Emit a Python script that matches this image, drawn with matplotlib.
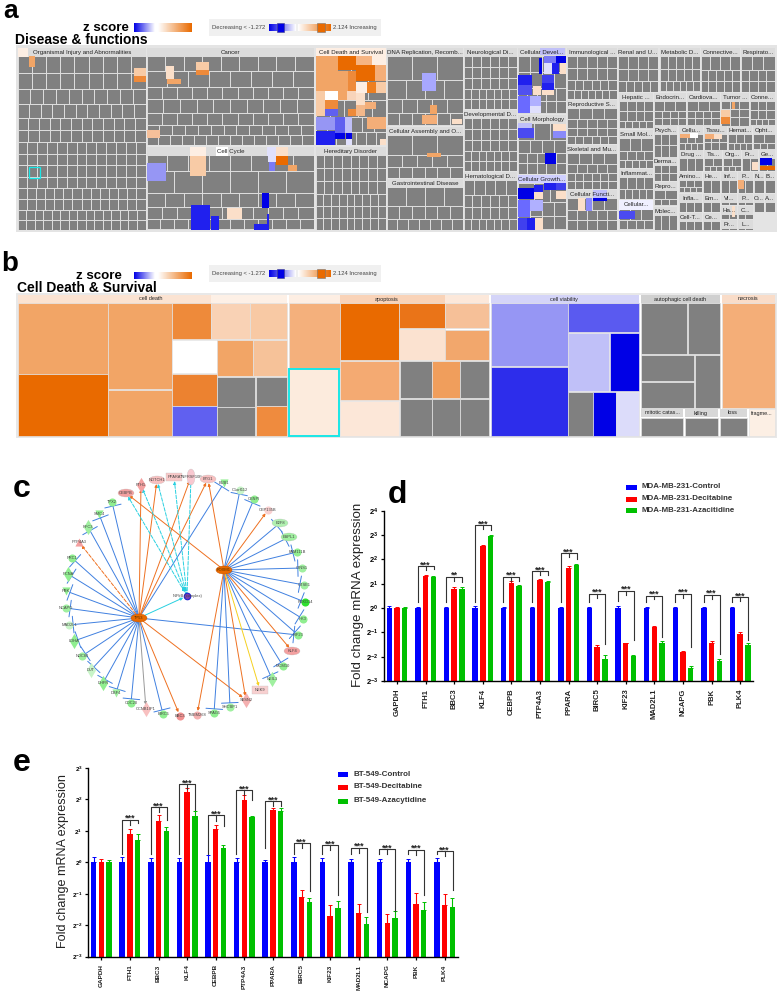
import numpy as np
import matplotlib
matplotlib.use('Agg')
import matplotlib.pyplot as plt
from matplotlib.patches import Rectangle, Ellipse
from matplotlib.colors import LinearSegmentedColormap

plt.rcParams['font.family'] = ['Liberation Sans', 'DejaVu Sans']
plt.rcParams['mathtext.fontset'] = 'custom'
plt.rcParams['mathtext.rm'] = 'Liberation Sans'
plt.rcParams['mathtext.bf'] = 'Liberation Sans:bold'

W, H = 777, 991
GRAY = '#808080'
O1, O2, O3, O4, O5, O6 = '#e96a00', '#ee8a3a', '#f2a566', '#f8cba6', '#fbdfc9', '#fdeee3'
B1, B2, B3, B4, B5, B6 = '#0000e6', '#2020ee', '#5a5af0', '#9696f4', '#c0c0f8', '#e0e0fc'

# ---- panel a: treemap regions (name, x0, x1, y0, y1, cells per row)
regions_a = [
    ('Organismal Injury and Abnormalities', 18, 146, 48, 230, [9, 9, 10, 11, 12, 12, 13, 13, 13, 13, 14, 14, 15, 15]),
    ('Cancer', 147, 314, 48, 145, [9, 8, 11, 10, 11, 13, 14]),
    ('Cell Cycle', 147, 314, 147, 230, [8, 6, 9, 11, 12]),
    ('Cell Death and Survival', 316, 386, 48, 145, [4, 4, 5, 6, 7]),
    ('Hereditary Disorder', 316, 386, 147, 230, [8, 8, 8, 9, 9, 9]),
    ('DNA Replication, Recomb...', 387, 463, 48, 126, [3, 4, 5, 6]),
    ('Cellular Assembly and O...', 387, 463, 127, 178, [3, 5, 6]),
    ('Gastrointestinal Disease', 387, 463, 179, 230, [4, 6, 7]),
    ('Neurological Di...', 464, 517, 48, 109, [6, 6, 6, 7, 7]),
    ('Developmental D...', 464, 517, 110, 171, [6, 6, 6, 7, 7]),
    ('Hematological D...', 464, 517, 172, 230, [5, 6, 6, 7]),
    ('Cellular Devel...', 518, 566, 48, 114, [4, 4, 5, 5]),
    ('Cell Morphology', 518, 566, 115, 174, [3, 4, 5, 5]),
    ('Cellular Growth...', 518, 566, 175, 230, [3, 4, 4]),
    ('Immunological ...', 567, 617, 48, 99, [5, 5, 6, 7]),
    ('Reproductive S...', 567, 617, 100, 144, [4, 5, 5, 6]),
    ('Skeletal and Mu...', 567, 617, 145, 189, [4, 5, 6, 6]),
    ('Cellular Functi...', 567, 617, 190, 230, [4, 5, 5]),
    ('Renal and U...', 618, 658, 48, 92, [4, 4, 5]),
    ('Hepatic ...', 619, 653, 93, 129, [4, 4, 5]),
    ('Small Mol...', 619, 653, 130, 168, [3, 4, 5]),
    ('Inflammat...', 619, 653, 169, 199, [4, 5]),
    ('Cellular...', 619, 653, 200, 230, [3, 4]),
    ('Metabolic D...', 660, 700, 48, 92, [5, 5, 6]),
    ('Connective...', 701, 740, 48, 92, [4, 5, 5]),
    ('Respirato...', 741, 775, 48, 92, [3, 4, 4]),
    ('Endocrin...', 654, 686, 93, 126, [3, 4, 4]),
    ('Cardiova...', 687, 720, 93, 126, [3, 4, 4]),
    ('Tumor ...', 721, 749, 93, 126, [3, 3, 3]),
    ('Conne...', 750, 775, 93, 126, [3, 3, 4]),
    ('Psych...', 654, 677, 126, 157, [3, 3]),
    ('Derma...', 654, 677, 157, 181, [3, 3]),
    ('Repro...', 654, 677, 182, 206, [2, 3]),
    ('Molec...', 654, 677, 207, 230, [3]),
    ('Cellu...', 679, 703, 126, 150, [3, 4]),
    ('Tissu...', 704, 727, 126, 150, [3, 3]),
    ('Hemat...', 728, 752, 126, 150, [3, 4]),
    ('Opht...', 753, 775, 126, 150, [2, 3]),
    ('Drug ...', 679, 703, 150, 171, [3]),
    ('Tis...', 704, 722, 150, 171, [2, 3]),
    ('Org...', 723, 741, 150, 171, [2, 3]),
    ('Fr...', 742, 758, 150, 171, [2]),
    ('Ge...', 759, 775, 150, 171, [2]),
    ('Amino...', 679, 702, 172, 193, [3, 4]),
    ('He...', 703, 720, 172, 193, [2]),
    ('Inf...', 721, 737, 172, 193, [2]),
    ('P...', 738, 753, 172, 193, [2]),
    ('N...', 754, 764, 172, 193, [1]),
    ('B...', 765, 775, 172, 193, [1]),
    ('Infla...', 679, 702, 194, 212, [3]),
    ('Em...', 703, 720, 194, 212, [2]),
    ('Vi...', 721, 737, 194, 205, [2]),
    ('P...', 738, 753, 194, 205, [2]),
    ('O...', 754, 764, 194, 212, [1]),
    ('A...', 765, 775, 194, 212, [1]),
    ('Cell-T...', 679, 702, 213, 230, [3]),
    ('Ce...', 703, 720, 213, 230, [2]),
    ('Ha...', 721, 737, 206, 219, [2]),
    ('C...', 738, 753, 206, 219, [2]),
    ('Pr...', 721, 737, 220, 230, [2]),
    ('L...', 738, 753, 220, 230, [2]),
]

# coloured cells of panel a
cells_a = [
    (18, 48, 28, 57, O6), (29, 56, 35, 67, O3), (134, 68, 146, 76, O4), (134, 76, 146, 82, O2),
    (166, 66, 174, 79, O5), (167, 79, 181, 84, O3), (196, 62, 209, 70, O4), (196, 70, 209, 75, O2),
    (147, 130, 160, 138, '#f6c09a'),
    (190, 147, 206, 156, O6), (216, 147, 228, 156, '#ffffff'), (267, 147, 276, 156, B6), (276, 147, 288, 156, O5),
    (190, 156, 206, 176, O4), (147, 163, 166, 181, B4), (276, 156, 288, 165, O1), (268, 156, 276, 162, B6),
    (269, 162, 275, 171, '#7a7af5'), (288, 165, 297, 171, O3), (227, 208, 242, 219, O5),
    (191, 205, 210, 220, B2), (191, 220, 210, 230, B2), (211, 216, 219, 230, B2), (262, 193, 269, 208, B1),
    (254, 224, 267, 230, B2), (267, 214, 269, 230, B2),
    (316, 48, 372, 56, O6), (372, 48, 386, 65, O6),
    (316, 56, 338, 71, O3), (338, 56, 356, 70, O1), (356, 56, 372, 65, '#f6b482'),
    (316, 71, 338, 91, O3), (338, 71, 348, 91, O3), (348, 71, 356, 91, O2), (356, 65, 375, 81, O1),
    (375, 65, 386, 81, '#f4ae78'), (316, 91, 325, 105, O4), (325, 91, 338, 100, '#ffffff'),
    (338, 91, 347, 100, O3), (347, 91, 356, 100, '#f8d4ba'), (356, 82, 367, 93, O6), (367, 82, 376, 93, '#ee7f20'),
    (376, 82, 386, 93, O4), (325, 100, 338, 109, O2), (316, 105, 325, 116, O4), (325, 109, 338, 116, '#6060f0'),
    (356, 93, 365, 105, O5), (365, 102, 376, 109, '#f4ae78'), (356, 105, 365, 116, '#f4b88a'),
    (348, 109, 356, 116, O2), (367, 117, 386, 129, '#f4ae78'), (316, 117, 335, 130, B4),
    (335, 117, 345, 133, '#6060f0'), (345, 117, 352, 133, B5), (316, 131, 335, 145, B2),
    (335, 133, 345, 139, B1), (346, 133, 352, 139, B1), (346, 139, 352, 145, B6), (380, 139, 386, 145, O5),
    (422, 73, 436, 91, '#a8a8ff'), (430, 105, 437, 114, O3), (422, 115, 437, 124, '#f4ae78'), (452, 119, 462, 124, O5),
    (427, 153, 441, 157, O3),
    (540, 48, 565, 55, B5), (539, 58, 542, 74, B1), (544, 56, 556, 63, '#7a7af5'), (556, 56, 566, 63, B1),
    (544, 63, 552, 74, B6), (552, 63, 559, 74, B2), (560, 63, 566, 74, O5),
    (518, 75, 532, 85, B2), (518, 85, 532, 95, '#5050f0'), (533, 86, 541, 95, O5), (542, 75, 554, 83, '#4040ee'),
    (542, 83, 554, 90, B2), (542, 90, 554, 95, O5), (518, 96, 530, 113, '#6a6aff'), (530, 96, 541, 106, '#b0b0ff'),
    (530, 106, 541, 113, B6),
    (518, 123, 532, 128, B5), (553, 124, 566, 131, O5), (518, 128, 534, 138, '#4a4af0'), (553, 131, 566, 138, '#8a8afa'),
    (545, 153, 556, 164, B1),
    (518, 175, 566, 183, '#d0d0ff'), (518, 188, 534, 199, B1), (534, 185, 543, 192, B2), (534, 192, 543, 199, O5),
    (544, 183, 556, 190, B2), (556, 183, 566, 190, '#4040ee'), (556, 191, 566, 199, O5), (518, 200, 530, 217, '#6a6aff'),
    (530, 200, 543, 211, '#b0b0ff'), (518, 218, 527, 230, '#4040ee'), (527, 218, 535, 230, B2), (535, 218, 543, 230, O5),
    (578, 198, 585, 211, O5), (586, 198, 592, 211, '#8a8afa'), (593, 190, 607, 198, B5), (593, 198, 607, 201, B1),
    (619, 200, 653, 210, '#f0f0ff'), (619, 211, 635, 219, '#4a4af0'),
    (732, 102, 735, 109, O3), (721, 110, 730, 117, O4), (721, 117, 730, 124, O2),
    (680, 134, 690, 138, '#f4ae78'), (690, 133, 698, 138, '#ffffff'), (705, 134, 714, 139, '#f4ae78'), (714, 134, 722, 139, O5),
    (760, 158, 772, 165, B1), (760, 166, 775, 170, O1), (752, 162, 758, 170, O5), (738, 180, 744, 189, '#f4ae78'),
    (732, 206, 735, 217, O5),
]

# ---- panel b: treemap cells
headers_b = [
    ('', 18, 211, 295, 303, '#fbe3d2'), ('', 211, 287.4, 295, 303, '#fdf0e6'),
    ('', 289, 340, 295, 303, '#fdeee3'), ('', 340, 445, 295, 303, '#f9d3b8'), ('', 445, 489, 295, 303, '#fce8da'),
    ('', 490.5, 639, 295, 303, '#d4d4f8'), ('', 640.7, 719.5, 295, 303, '#d0d0d0'), ('', 721.5, 774.5, 295, 303, '#f9dcc8'),
    ('', 640.7, 683, 408.5, 417, '#d8d8d8'), ('', 685, 717.5, 408.5, 417, '#d8d8d8'), ('', 719.5, 747, 408.5, 417, '#d8d8d8'),
]
labels_b = ['cell death', 'apoptosis', 'cell viability', 'autophagic cell death', 'necrosis',
            'mitotic catas...', 'killing', 'loss', 'fragme...']
label_x_b = [151, 387, 564, 680, 748, 662, 701, 733, 762]
label_y_b = [299, 299, 299, 299, 299, 413, 413, 413, 413]
cells_b = [
    (18, 303, 107.5, 373.5, O3), (18, 373.5, 107.5, 435.7, O1), (107.5, 303, 171.5, 389, O3), (107.5, 390, 171.5, 435.7, O3),
    (171.5, 303, 211, 339, '#ee8a3a'), (211, 303, 250, 339, '#f9d2b5'), (250, 303, 287.4, 339, '#f8c9a4'),
    (171.5, 340, 217, 373, '#ffffff'), (217, 340, 252.7, 376, O3), (252.7, 340, 287.4, 376, '#f6c299'),
    (171.5, 374, 217, 405.5, '#ec8230'), (217, 376.5, 255, 406.5, GRAY), (256, 376.5, 287.4, 405.5, GRAY),
    (171.5, 406, 217, 435.7, '#6060f0'), (217, 407, 255, 435.7, GRAY), (256, 406, 287.4, 435.7, '#ef8b3e'),
    (289, 303, 340, 367.5, '#f4b07c'), (340, 303, 399.4, 360, O1), (399.4, 303, 445, 328.3, '#ea7418'),
    (445, 303, 489, 328.3, '#f6c098'), (399.4, 329, 445, 360, '#fbe2d0'), (445, 329.5, 489, 359.5, '#f2a76c'),
    (340, 360.5, 399.4, 400, '#f4aa72'), (340, 400.5, 399.4, 435.7, '#fce7d8'),
    (400, 360.5, 432, 398.3, GRAY), (432, 360.5, 460, 398.3, '#f09e5c'), (460, 360.5, 489, 398.3, GRAY),
    (400, 399, 432, 435.7, GRAY), (432, 399, 460, 435.7, GRAY), (460, 399, 489, 435.7, GRAY),
    (490.5, 303, 568, 366, '#9696f4'), (490.5, 367, 568, 435.7, '#2d2deb'), (568, 303, 639, 332, '#5a5af0'),
    (568, 333, 609, 390.5, '#c0c0f8'), (609.5, 333, 639, 390.5, B1), (568, 391.5, 593, 435.7, GRAY),
    (593, 391.5, 616, 435.7, B1), (616, 391.5, 639, 435.7, '#dcdcfa'),
    (640.7, 303, 687, 353.7, GRAY), (687.5, 303, 719.5, 353.7, GRAY), (640.7, 354.5, 694, 381, GRAY),
    (694.5, 354.5, 719.5, 407.5, GRAY), (640.7, 382, 694, 407.5, GRAY), (721.5, 303, 774.5, 407.5, '#f4ae78'),
    (640.7, 417.5, 683, 435.7, GRAY), (685, 417.5, 717.5, 435.7, GRAY), (719.5, 417.5, 747, 435.7, GRAY),
    (749, 408.5, 774.5, 435.7, '#fcefe4'),
]

# ---- panel c: network nodes (label, x, y, shape, colour)
nodes_c = {
    'CEBPB': (126, 493, 'e', '#f4a0a0'), 'FTH1': (141, 485, 'd', '#f4a0a0'), 'NOTCH1': (157, 480, 'e', '#f8c0c0'),
    'PPARA': (174, 477, 's', '#f8c8c8'), 'TNFRSF10F': (191, 477, 'v', '#f8c8d0'), 'BTG1': (208, 479, 'e', '#f8c0c0'),
    'BUB1': (224, 483, 't', '#90ee90'), 'C1orf112': (240, 490, 'o', '#c8f4c8'), 'CENPI': (254, 499, 'o', '#90ee90'),
    'CEP135B': (268, 510, 'o', '#f8d0d0'), 'E2F8': (280, 523, 'e', '#b0f0b0'), 'ESPL1': (289, 537, 'e', '#a0f0a0'),
    'FAM111B': (297, 552, 'o', '#90ee90'), 'GINS1': (302, 568, 'o', '#a0f0a0'), 'GTSE1': (304, 585, 'o', '#a0f0a0'),
    'FBXO14': (305, 602, 'o', '#30e030'), 'HK3': (303, 619, 'o', '#90ee90'), 'KIF23': (298, 635, 'o', '#90ee90'),
    'KLF4': (292, 651, 'e', '#f4a0a0'), 'MCM10': (283, 666, 'o', '#90ee90'), 'NEIL3': (272, 679, 'd', '#a0f0a0'),
    'NEK9': (260, 690, 's', '#f8d0d0'), 'SESN2': (246, 700, 'd', '#f4b0b0'), 'SHCBP1': (230, 707, 'o', '#a0f0a0'),
    'SPAG5': (214, 713, 'o', '#90ee90'), 'TMEM268': (197, 715, 'o', '#f4b0b0'), 'BBC3': (180, 716, 'o', '#f09090'),
    'BIRC5': (163, 714, 'o', '#90ee90'), 'CCNB1IP1': (146, 709, 'd', '#f8c0c0'), 'CDC20': (131, 703, 'o', '#90ee90'),
    'DBF4': (116, 693, 't', '#a0f0a0'), 'DHFR': (103, 683, 'd', '#90ee90'), 'DUT': (91, 670, 'd', '#c8f4c8'),
    'NDC80': (82, 656, 'o', '#a0f0a0'), 'LDHA': (74, 641, 'd', '#90ee90'), 'MAD2L1': (69, 625, 'o', '#c8f4c8'),
    'NCAPG': (66, 608, 'o', '#a0f0a0'), 'PBK': (66, 591, 't', '#90ee90'), 'PCNA': (68, 574, 'd', '#90ee90'),
    'PRC1': (72, 558, 'o', '#90ee90'), 'PTP4A3': (79, 542, '^', '#f4a0a0'), 'RFC3': (88, 527, 'd', '#a0f0a0'),
    'SMC4': (99, 514, 't', '#90ee90'), 'TPX2': (112, 502, 'o', '#90ee90'),
}
hub_a = (139, 618)
hub_b = (224, 570)
hub_c = (187, 596)
blue_a = ['PRC1', 'PCNA', 'PBK', 'NCAPG', 'MAD2L1', 'LDHA', 'NDC80', 'DUT', 'DHFR', 'DBF4', 'CDC20', 'BIRC5',
          'RFC3', 'SMC4', 'TPX2', 'BUB1', 'KIF23']
orange_a = ['FTH1', 'NOTCH1', 'TNFRSF10F', 'BTG1', 'BBC3', 'SESN2']
blue_b = ['C1orf112', 'CENPI', 'E2F8', 'ESPL1', 'FAM111B', 'GINS1', 'GTSE1', 'FBXO14', 'HK3', 'MCM10', 'NEIL3',
          'SHCBP1', 'SPAG5']
orange_b = ['CEBPB', 'CEP135B', 'KLF4', 'SESN2', 'TMEM268', 'BTG1']
cyan_c = ['CEBPB', 'FTH1', 'NOTCH1', 'PPARA', 'TNFRSF10F']

# ---- panels d and e: log2 fold change
genes_d = ['GAPDH', 'FTH1', 'BBC3', 'KLF4', 'CEBPB', 'PTP4A3', 'PPARA', 'BIRC5', 'KIF23', 'MAD2L1', 'NCAPG', 'PBK', 'PLK4']
ctrl_d = [0, 0, 0, 0, 0, 0, 0, 0, 0, 0, 0, 0, 0]
dec_d = [0, 1.30, 0.77, 2.53, 1.04, 1.14, 1.64, -1.62, -1.45, -0.77, -1.82, -1.44, -1.05]
aza_d = [0, 1.27, 0.77, 2.95, 0.89, 1.07, 1.77, -2.08, -1.99, -1.42, -2.48, -2.19, -1.53]
ctrl_err_d = [0.07, 0.06, 0.06, 0.07, 0.05, 0.04, 0.06, 0.06, 0.08, 0.03, 0.05, 0.04, 0.05]
dec_err_d = [0.05, 0.07, 0.10, 0.06, 0.06, 0.07, 0.08, 0.11, 0.03, 0.03, 0.06, 0.07, 0.08]
aza_err_d = [0.03, 0.05, 0.08, 0.07, 0.05, 0.05, 0.03, 0.16, 0.07, 0.05, 0.11, 0.08, 0.09]
brk_top_d = [1.71, 1.29, 3.40, 1.29, 1.52, 2.25, 0.59, 0.71, 0.51, 0.59, 0.55, 0.45]
brk_right_d = [1.60, 1.07, 3.20, 1.13, 1.34, 2.03, -1.47, -1.33, -1.19, -1.60, -1.88, -1.33]
brk_left_d = [0.25, 0.25, 0.25, 0.25, 0.25, 0.25, 0.25, 0.28, 0.25, 0.25, 0.25, 0.25]
stars_d = ['***', '**', '***', '***', '***', '***', '***', '***', '***', '***', '***', '***']
legend_d = ['MDA-MB-231-Control', 'MDA-MB-231-Decitabine', 'MDA-MB-231-Azacitidine']

genes_e = ['GAPDH', 'FTH1', 'BBC3', 'KLF4', 'CEBPB', 'PTP4A3', 'PPARA', 'BIRC5', 'KIF23', 'MAD2L1', 'NCAPG', 'PBK', 'PLK4']
ctrl_e = [0, 0, 0, 0, 0.02, 0, 0, 0, 0, 0, 0, 0, 0]
dec_e = [0, 0.91, 1.33, 2.25, 1.05, 1.99, 1.65, -1.10, -1.70, -1.60, -1.92, -1.32, -1.35]
aza_e = [0, 0.72, 0.99, 1.46, 0.47, 1.44, 1.62, -1.27, -1.44, -1.96, -1.78, -1.51, -1.41]
ctrl_err_e = [0.16, 0.17, 0.15, 0.14, 0.20, 0.14, 0.07, 0.18, 0.14, 0.10, 0.11, 0.11, 0.14]
dec_err_e = [0.11, 0.16, 0.18, 0.12, 0.15, 0.15, 0.07, 0.21, 0.34, 0.29, 0.28, 0.33, 0.34]
aza_err_e = [0.09, 0.18, 0.14, 0.16, 0.07, 0.03, 0.10, 0.15, 0.21, 0.21, 0.22, 0.24, 0.27]
brk_top_e = [1.35, 1.76, 2.49, 1.49, 2.30, 1.94, 0.61, 0.55, 0.47, 0.42, 0.40, 0.36]
brk_right_e = [1.25, 1.36, 1.68, 1.15, 1.97, 1.78, -0.90, -1.03, -1.58, -1.54, -1.05, -0.89]
brk_left_e = [0.25, 0.25, 0.25, 0.25, 0.25, 0.45, 0.25, 0.25, 0.25, 0.25, 0.25, 0.25]
stars_e = ['***'] * 12
legend_e = ['BT-549-Control', 'BT-549-Decitabine', 'BT-549-Azacytidine']


def rect(ax, x0, y0, x1, y1, color, ec='none', lw=0, z=2):
    ax.add_patch(Rectangle((x0, y0), x1 - x0, y1 - y0, facecolor=color, edgecolor=ec, linewidth=lw, zorder=z))


def grid_cells(ax, x0, x1, y0, y1, rows):
    # rows with many cells are lower, as in a treemap
    weights = np.array([1.0 / n for n in rows])
    heights = (y1 - y0) * weights / weights.sum()
    y = y0
    for n, h in zip(rows, heights):
        xs = np.linspace(x0, x1, n + 1)
        for i in range(n):
            rect(ax, xs[i] + 0.5, y + 0.5, xs[i + 1] - 0.5, y + h - 0.5, GRAY)
        y += h


def zscore_key(ax, ybar, ybar2, ykey):
    blue = LinearSegmentedColormap.from_list('b', ['#0000e6', '#ffffff'])
    orange = LinearSegmentedColormap.from_list('o', ['#ffffff', '#e96a00'])
    ramp = np.linspace(0, 1, 64).reshape(1, -1)
    ax.imshow(ramp, cmap=blue, extent=(134, 155, ybar2, ybar), aspect='auto', zorder=3)
    ax.imshow(ramp, cmap=orange, extent=(158, 192, ybar2, ybar), aspect='auto', zorder=3)
    rect(ax, 209, ykey, 381, ykey + 17, '#f0f0f0', z=2)
    ax.imshow(ramp, cmap=blue, extent=(269, 296, ykey + 12, ykey + 5), aspect='auto', zorder=3)
    ax.imshow(ramp, cmap=orange, extent=(298, 331, ykey + 12, ykey + 5), aspect='auto', zorder=3)
    rect(ax, 277, ykey + 4, 284, ykey + 13, '#0000e6', ec='#444488', lw=0.4, z=4)
    rect(ax, 317, ykey + 4, 325, ykey + 13, '#e96a00', ec='#777777', lw=0.4, z=4)
    ax.text(212, ykey + 9, 'Decreasing < -1.272', fontsize=4.2, color='#444444', va='center', zorder=4)
    ax.text(333, ykey + 9, '2.124 Increasing', fontsize=4.2, color='#444444', va='center', zorder=4)


def bar_panel(ax, genes, ctrl, dec, aza, errs, tops, rights, lefts, stars, xlim, ymin, ymax, fs):
    x = np.arange(len(genes))
    colors = ['#0000ff', '#ff0000', '#00c000']
    for off, vals, err, c in zip([-0.27, 0, 0.27], [ctrl, dec, aza], errs, colors):
        v = np.array(vals, dtype=float)
        e = np.array(err, dtype=float)
        ax.bar(x + off, 2.0 ** v - 2.0 ** ymin, width=0.19, bottom=2.0 ** ymin, color=c, zorder=2)
        ax.errorbar(x + off, 2.0 ** v, yerr=[np.zeros_like(v), 2.0 ** (v + e) - 2.0 ** v], fmt='none',
                    ecolor=c, elinewidth=0.8, capsize=1.2, capthick=0.7, zorder=2)
    for i in range(len(tops)):
        g = i + 1
        top = 2.0 ** tops[i]
        ax.plot([g - 0.28, g - 0.28, g + 0.28, g + 0.28], [2.0 ** lefts[i], top, top, 2.0 ** rights[i]],
                color='#333333', lw=0.8, zorder=3)
        ax.plot([g, g], [top, 2.0 ** (tops[i] - 0.16)], color='#333333', lw=0.8, zorder=3)
        ax.annotate(stars[i], xy=(g, top), xytext=(0, 1), textcoords='offset points', ha='center', va='center',
                    fontsize=6.5, fontweight='bold', color='#222222')
    ax.set_yscale('log', base=2)
    ax.set_ylim(2.0 ** ymin, 2.0 ** ymax)
    ax.set_xlim(*xlim)
    ticks = list(range(ymin, ymax + 1))
    ax.set_yticks([2.0 ** t for t in ticks])
    ax.set_yticklabels(['$\\mathbf{2^{%d}}$' % t for t in ticks], fontsize=fs)
    ax.minorticks_off()
    ax.set_xticks(x)
    ax.set_xticklabels(genes, rotation=90, fontsize=fs, fontweight='bold', color='#222222')
    ax.tick_params(axis='both', length=2.5, width=0.9, pad=1.5)
    ax.tick_params(axis='x', pad=3)
    for s in ['top', 'right']:
        ax.spines[s].set_visible(False)
    for s in ['left', 'bottom']:
        ax.spines[s].set_linewidth(1.0)
    ax.patch.set_alpha(0)


fig = plt.figure(figsize=(W / 100, H / 100), dpi=100, facecolor='white')
bg = fig.add_axes([0, 0, 1, 1])
bg.set_axis_off()

# panel a
rect(bg, 16, 45, 777, 232, '#e4e4e4', z=1)
for name, x0, x1, y0, y1, rows in regions_a:
    rect(bg, x0, y0, x1, y1, '#dcdcdc', z=1.5)
    grid_cells(bg, x0, x1, y0 + 8.5, y1, rows)
for x0, y0, x1, y1, c in cells_a:
    rect(bg, x0, y0, x1, y1, c, z=2.5)
for name, x0, x1, y0, y1, rows in regions_a:
    bg.text((x0 + x1) / 2, y0 + 4.2, name, ha='center', va='center', fontsize=4.4, color='#222222', zorder=4)
rect(bg, 29, 167, 40, 178, 'none', ec='#19e6e6', lw=0.9, z=4)
bg.text(3, 18, 'a', fontsize=19, fontweight='bold', va='baseline')
bg.text(83, 31, 'z score', fontsize=9.6, fontweight='bold', va='baseline')
bg.text(15, 44, 'Disease & functions', fontsize=10, fontweight='bold', va='baseline')
zscore_key(bg, 23, 32, 19)

# panel b
rect(bg, 16, 293, 777, 438, '#e8e8e8', z=1)
rect(bg, 18, 295, 775, 436, '#ffffff', z=1.2)
for _, x0, x1, y0, y1, c in headers_b:
    rect(bg, x0, y0, x1, y1, c, z=2)
for x0, y0, x1, y1, c in cells_b:
    rect(bg, x0, y0, x1, y1, c, ec='#e2e2e2', lw=0.5, z=2)
rect(bg, 289, 368.5, 339, 435.7, '#fcebdd', ec='#19e6e6', lw=1.4, z=3)
for t, x, y in zip(labels_b, label_x_b, label_y_b):
    bg.text(x, y, t, ha='center', va='center', fontsize=4, color='#222222', zorder=4)
bg.text(1, 271, 'b', fontsize=20, fontweight='bold', va='baseline')
bg.text(76, 279, 'z score', fontsize=9.6, fontweight='bold', va='baseline')
bg.text(17, 292, 'Cell Death & Survival', fontsize=10, fontweight='bold', va='baseline')
zscore_key(bg, 272, 279, 265)

# panel c
bg.text(13, 497, 'c', fontsize=23, fontweight='bold', va='baseline')


def edge(a, b, color, style='-', kind='-|>'):
    bg.annotate('', xy=b, xytext=a, zorder=5,
                arrowprops=dict(arrowstyle=kind, color=color, lw=0.7, linestyle=style, shrinkA=0, shrinkB=3,
                                mutation_scale=4))


T_BAR = '-[,widthB=1.5,lengthB=0'
for n in blue_a:
    edge(hub_a, nodes_c[n][:2], '#4080e0', kind=T_BAR)
for n in orange_a:
    edge(hub_a, nodes_c[n][:2], '#ee7020')
edge(hub_a, nodes_c['PTP4A3'][:2], '#ee7020', style='--')
edge(hub_a, nodes_c['CCNB1IP1'][:2], '#999999')
for n in blue_b:
    edge(hub_b, nodes_c[n][:2], '#4080e0', kind=T_BAR)
edge(hub_b, nodes_c['KIF23'][:2], '#4080e0', kind=T_BAR)
for n in orange_b:
    edge(hub_b, nodes_c[n][:2], '#ee7020')
edge(hub_b, nodes_c['NEK9'][:2], '#f5d020')
for n in cyan_c:
    edge(hub_c, nodes_c[n][:2], '#28d0e0', style='--')
edge(hub_a, hub_c, '#28d0e0')

shape_marker = {'o': 'o', 'd': 'D', 's': 's', 't': 'v', '^': '^'}
for name, (x, y, shape, c) in nodes_c.items():
    if shape == 'e':
        bg.add_patch(Ellipse((x, y), 16, 8, facecolor=c, edgecolor='#bbbbbb', linewidth=0.2, zorder=6))
    elif shape == 'v':
        bg.add_patch(Ellipse((x, y), 8, 16, facecolor=c, edgecolor='#bbbbbb', linewidth=0.2, zorder=6))
    elif shape == 'd':
        bg.scatter([x], [y], s=60, marker='d', c=c, linewidths=0, zorder=6)
    elif shape == 's':
        bg.add_patch(Rectangle((x - 8, y - 4), 16, 8, facecolor=c, edgecolor='#bbbbbb', linewidth=0.2, zorder=6))
    else:
        bg.scatter([x], [y], s=34, marker=shape_marker[shape], c=c, linewidths=0, zorder=6)
    bg.text(x, y, name, ha='center', va='center', fontsize=2.9, color='#444444', zorder=7)
for h in [hub_a, hub_b]:
    bg.add_patch(Ellipse(h, 16, 8, facecolor='#e96a00', edgecolor='#c05000', linewidth=0.3, zorder=6))
bg.text(hub_a[0], hub_a[1], 'TP53', ha='center', va='center', fontsize=2.9, color='#553300', zorder=7)
bg.text(hub_b[0], hub_b[1], 'FOXM1', ha='center', va='center', fontsize=2.9, color='#553300', zorder=7)
bg.scatter([hub_c[0]], [hub_c[1]], s=22, c='#7a3fb0', edgecolors='#2020d0', linewidths=0.8, zorder=6)
bg.scatter([hub_c[0] - 3], [hub_c[1] - 7], s=10, c='#28d0e0', marker='s', linewidths=0, zorder=6)
bg.text(hub_c[0], hub_c[1], 'NFkB (complex)', ha='center', va='center', fontsize=2.9, color='#444444', zorder=7)

# panel d
bg.text(388, 503, 'd', fontsize=23, fontweight='bold', va='baseline')
bg.text(358, 595, 'Fold change mRNA expression', rotation=90, fontsize=9.6, ha='center', va='center', color='#222222')
ax_d = fig.add_axes([384 / W, 1 - 681 / H, (753 - 384) / W, (681 - 510.7) / H])
bar_panel(ax_d, genes_d, ctrl_d, dec_d, aza_d, [ctrl_err_d, dec_err_d, aza_err_d], brk_top_d, brk_right_d,
          brk_left_d, stars_d, (-0.455, 12.45), -3, 4, 5.5)
for t, y, c in zip(legend_d, [487, 499, 510], ['#0000ff', '#ff0000', '#00c000']):
    rect(bg, 626, y - 2.5, 637, y + 2.5, c)
    bg.text(642, y, t, fontsize=5.7, fontweight='bold', va='center', color='#333333')

# panel e
bg.text(13, 771, 'e', fontsize=23, fontweight='bold', va='baseline')
bg.text(63, 861, 'Fold change mRNA expression', rotation=90, fontsize=9.1, ha='center', va='center', color='#222222')
ax_e = fig.add_axes([88 / W, 1 - 956.7 / H, (458 - 88) / W, (956.7 - 768) / H])
bar_panel(ax_e, genes_e, ctrl_e, dec_e, aza_e, [ctrl_err_e, dec_err_e, aza_err_e], brk_top_e, brk_right_e,
          brk_left_e, stars_e, (-0.465, 12.47), -3, 3, 4.6)
for t, y, c in zip(legend_e, [774, 787, 801], ['#0000ff', '#ff0000', '#00c000']):
    rect(bg, 338, y - 2.5, 348, y + 2.5, c)
    bg.text(354, y, t, fontsize=5.8, fontweight='bold', va='center', color='#333333')

bg.set_xlim(0, W)
bg.set_ylim(H, 0)
fig.savefig('out.png', dpi=100)
